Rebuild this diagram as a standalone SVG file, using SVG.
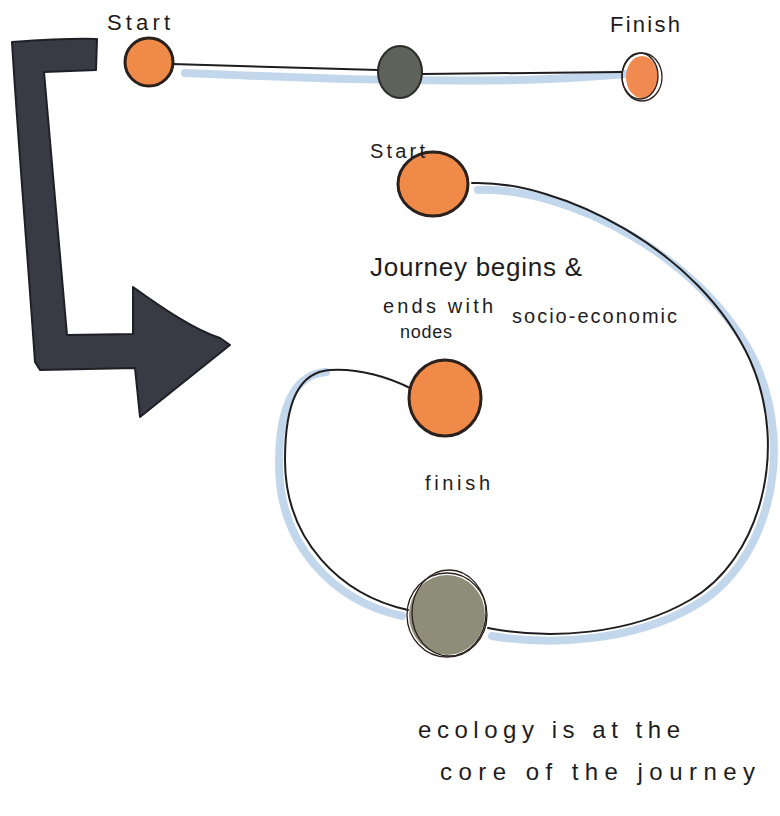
<svg xmlns="http://www.w3.org/2000/svg" width="780" height="816" viewBox="0 0 780 816">
<style>
.t{font-family:"Liberation Sans","DejaVu Sans",sans-serif;fill:#1e1c1c;}
.ink{fill:none;stroke:#1f1d1f;stroke-width:2;stroke-linecap:round;}
.shadow{fill:none;stroke:#b7cfe9;stroke-width:8;stroke-linecap:round;opacity:0.85;}
.orange{fill:#f08a48;stroke:#2a201c;stroke-width:3;}
.ring{fill:none;stroke:#2a201c;stroke-width:1.3;}
</style>
<rect width="780" height="816" fill="#ffffff"/>
<g id="connectors">
  <path class="shadow" d="M185,73 C300,78 400,82 520,80 C570,79 600,76 626,74"/>
  <path class="ink" d="M172,64 C250,66 320,68 378,70"/>
  <path class="ink" d="M422,74 C500,73 570,72 622,72"/>
  <path class="shadow" d="M478,190 C565,186 705,256 756,364 C796,456 766,566 694,606 C634,641 552,646 492,636"/>
  <path class="ink" d="M472,183 C560,180 700,250 750,360 C790,450 760,560 690,600 C630,635 550,640 488,628"/>
  <path class="shadow" d="M402,616 C334,601 279,546 279,464 C279,404 296,374 326,372"/>
  <path class="ink" d="M408,610 C340,595 285,540 285,460 C285,400 300,372 330,370 C360,368 390,378 410,388"/>
</g>
<g id="arrow">
  <path d="M12,42 C40,40 70,38 97,39 L96,70 L44,72 C50,150 60,250 67,335 L133,334 L133,287 C165,310 195,330 220,338 L230,345 L140,417 L135,368 L40,370 L35,362 C28,260 18,140 12,42 Z" fill="#3a3a45" stroke="#1f1f26" stroke-width="2" stroke-linejoin="round"/>
</g>
<g id="start1">
  <circle cx="149" cy="62" r="24" class="orange"/>
  <text class="t" x="107" y="30" font-size="22" textLength="63">Start</text>
</g>
<g id="mid1">
  <ellipse cx="400" cy="72" rx="22" ry="26" fill="#5f625a" stroke="#2a2a26" stroke-width="2"/>
</g>
<g id="finish1">
  <ellipse cx="642" cy="77" rx="16" ry="21" fill="#f08a50"/>
  <ellipse cx="642" cy="77" rx="20" ry="24" class="ring"/>
  <ellipse cx="640" cy="76" rx="18" ry="23" class="ring"/>
  <text class="t" x="610" y="32" font-size="22" textLength="70">Finish</text>
</g>
<g id="start2">
  <ellipse cx="433" cy="184" rx="35" ry="32" class="orange"/>
  <text class="t" x="370" y="158" font-size="20" textLength="55">Start</text>
</g>
<g id="note1">
  <text class="t" x="370" y="276" font-size="26" textLength="212">Journey begins &amp;</text>
  <text class="t" x="383" y="313" font-size="20" textLength="110">ends with</text>
  <text class="t" x="512" y="323" font-size="20" textLength="165">socio-economic</text>
  <text class="t" x="400" y="338" font-size="18" textLength="52">nodes</text>
</g>
<g id="finish2">
  <ellipse cx="445" cy="398" rx="36" ry="38" class="orange"/>
  <text class="t" x="425" y="490" font-size="20" textLength="65">finish</text>
</g>
<g id="ecology">
  <ellipse cx="447" cy="615" rx="38" ry="40" fill="#8e8d7a"/>
  <ellipse cx="447" cy="615" rx="40" ry="42" class="ring" stroke-width="2"/>
  <ellipse cx="449" cy="613" rx="37" ry="43" class="ring"/>
</g>
<g id="note2">
  <text class="t" x="418" y="738" font-size="24" textLength="262">ecology is at the</text>
  <text class="t" x="440" y="780" font-size="24" textLength="315">core of the journey</text>
</g>
</svg>
